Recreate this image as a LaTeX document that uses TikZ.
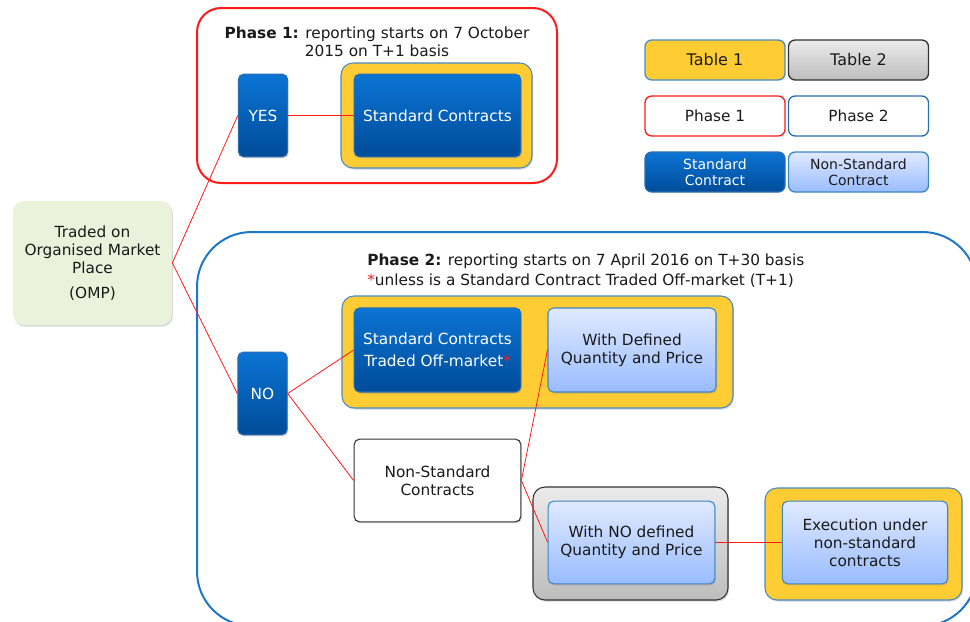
\documentclass[tikz,border=0pt]{standalone}
\usepackage{fontspec}
\setmainfont{DejaVu Sans}
\usetikzlibrary{shadows}
\definecolor{stdtop}{HTML}{0B74D4}
\definecolor{stdbot}{HTML}{004C99}
\definecolor{stdline}{HTML}{2C6CB0}
\definecolor{nstdtop}{HTML}{E0EAFF}
\definecolor{nstdbot}{HTML}{99BCFF}
\definecolor{nstdline}{HTML}{3D86C6}
\definecolor{tabone}{HTML}{FFCC33}
\definecolor{tabline}{HTML}{4A8AC0}
\definecolor{grytop}{HTML}{EBEBEB}
\definecolor{grybot}{HTML}{BDBDBD}
\definecolor{phred}{HTML}{FF1A1A}
\definecolor{phblue}{HTML}{1F77C8}
\definecolor{ompgreen}{HTML}{EBF2DC}
\definecolor{txt}{HTML}{1A1A1A}

\begin{document}
\begin{tikzpicture}[x=0.75pt,y=-0.75pt,
  font=\fontsize{11.5}{13.5}\selectfont,text=txt,
  shadowed/.style={drop shadow={shadow xshift=0.8pt,shadow yshift=-1.2pt,opacity=0.3}},
  box/.style={rounded corners=4pt,align=center,inner sep=2pt,line width=0.8pt},
  std/.style={box,draw=stdline,top color=stdtop,bottom color=stdbot,text=white,shadowed},
  nstd/.style={box,draw=nstdline,top color=nstdtop,bottom color=nstdbot,shadowed},
  yframe/.style={draw=tabline,fill=tabone,line width=0.8pt,rounded corners=9pt,shadowed},
  gframe/.style={draw=black!80,top color=grytop,bottom color=grybot,line width=0.8pt,rounded corners=9pt,shadowed},
  legend/.style={box,minimum width=105pt,minimum height=30pt,rounded corners=5pt,line width=1pt},
  link/.style={draw=phred,line width=0.6pt}]
\clip (0,0) rectangle (970,621);

% phase frames
\draw[phred,line width=1.5pt,rounded corners=18pt] (197,8) rectangle (557,183);
\draw[phblue,line width=1.5pt,rounded corners=41pt] (197,232) rectangle (977,626);

\node[align=center] (titleone) at (377,41.5) {\textbf{Phase 1:} reporting starts on 7 October\\2015 on T+1 basis};
\node[align=left,anchor=north west,inner sep=0pt] (titletwo) at (367,254)
  {\textbf{Phase 2:} reporting starts on 7 April 2016 on T+30 basis\\[1.5pt]{\color{phred}*}unless is a Standard Contract Traded Off-market (T+1)};

% table frames
\draw[yframe] (341,63) rectangle (532,168);
\draw[yframe] (342,296) rectangle (733,408);
\draw[gframe] (533,487) rectangle (728,600);
\draw[yframe] (765,488) rectangle (962,600);

% nodes
\node[box,fill=ompgreen,rounded corners=8pt,minimum width=119pt,minimum height=93pt,shadowed] (omp) at (92.5,263)
  {Traded on\\Organised Market\\Place\\[5pt](OMP)};
\node[std,minimum width=37pt,minimum height=62pt] (yes) at (263,115.5) {YES};
\node[std,minimum width=37pt,minimum height=62pt] (no) at (262.5,393.5) {NO};
\node[std,minimum width=125pt,minimum height=62pt] (stdc) at (437.5,115.5) {Standard Contracts};
\node[std,minimum width=125pt,minimum height=63pt] (stdoff) at (437.5,350)
  {Standard Contracts\\[3pt]Traded Off-market{\color{phred}*}};
\node[nstd,minimum width=126pt,minimum height=63pt] (wdef) at (632,350) {With Defined\\Quantity and Price};
\node[box,draw=black!80,fill=white,minimum width=125pt,minimum height=62pt,shadowed] (nonstd) at (437.5,480.5)
  {Non-Standard\\Contracts};
\node[nstd,minimum width=125pt,minimum height=62pt] (wno) at (631.5,542.5) {With NO defined\\Quantity and Price};
\node[nstd,minimum width=124pt,minimum height=62pt] (exec) at (865,542.5)
  {Execution under\\non-standard\\contracts};

% legend
\node[legend,draw=tabline,fill=tabone,font=\fontsize{12}{14}\selectfont] (tabA) at (715,60) {Table 1};
\node[legend,draw=black!80,top color=grytop,bottom color=grybot,font=\fontsize{12}{14}\selectfont] (tabB) at (858.5,60) {Table 2};
\node[legend,draw=phred,fill=white] (phA) at (715,116) {Phase 1};
\node[legend,draw=stdline,fill=white] (phB) at (858.5,116) {Phase 2};
\node[legend,draw=stdline,top color=stdtop,bottom color=stdbot,text=white,font=\fontsize{10.5}{12}\selectfont] (stdA) at (715,172) {Standard\\Contract};
\node[legend,draw=nstdline,top color=nstdtop,bottom color=nstdbot,font=\fontsize{10.5}{12}\selectfont] (stdB) at (858.5,172) {Non-Standard\\Contract};

% links
\draw[link] (omp.east) -- (yes.west);
\draw[link] (omp.east) -- (no.west);
\draw[link] (yes.east) -- (stdc.west);
\draw[link] (no.east) -- (stdoff.west);
\draw[link] (no.east) -- (nonstd.west);
\draw[link] (nonstd.east) -- (wdef.west);
\draw[link] (nonstd.east) -- (wno.west);
\draw[link] (wno.east) -- (exec.west);
\end{tikzpicture}
\end{document}
